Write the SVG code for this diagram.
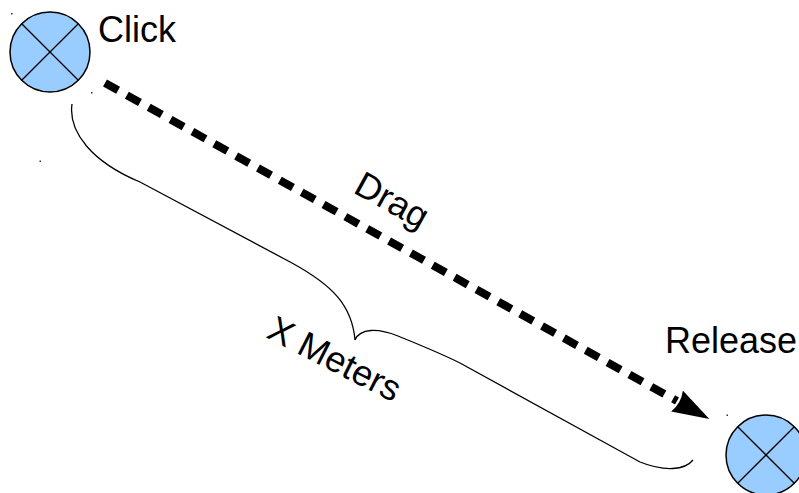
<svg xmlns="http://www.w3.org/2000/svg" width="799" height="493" viewBox="0 0 799 493">
<defs>
<style>
.node circle{fill:#99ccff;stroke:#000;stroke-width:1.5}
.node line{stroke:#000;stroke-width:1.3}
.lbl{font-family:"Liberation Sans",Arial,sans-serif;font-size:36px;fill:#000}
.dot{fill:#333}
</style>
<marker id="ah" viewBox="0 0 37 24" refX="0" refY="12" markerWidth="37" markerHeight="24" orient="auto" markerUnits="userSpaceOnUse">
<path d="M0,0 L37,12 L0,24 Q5,12 0,0 Z" fill="#000"/>
</marker>
</defs>
<rect width="799" height="493" fill="#fff"/>
<g id="connectors">
<line x1="105" y1="83" x2="677" y2="401" stroke="#000" stroke-width="8" stroke-dasharray="15,10" marker-end="url(#ah)"/>
<path d="M72,104 C68,132 92,162 140,182 L292,263 C332,285 352,305 355,340 C360,328 378,328 398,336 C420,345 440,353 460,363 L640,462 C665,472 685,470 693,460" fill="none" stroke="#000" stroke-width="1.3"/>
</g>
<g id="click">
<g class="node"><circle cx="50" cy="52" r="40"/><line x1="21.7" y1="23.7" x2="78.3" y2="80.3"/><line x1="78.3" y1="23.7" x2="21.7" y2="80.3"/></g>
<text class="lbl" x="98" y="42">Click</text>
</g>
<g id="release">
<g class="node"><circle cx="766" cy="455" r="40"/><line x1="737.7" y1="426.7" x2="794.3" y2="483.3"/><line x1="794.3" y1="426.7" x2="737.7" y2="483.3"/></g>
<text class="lbl" x="665" y="353">Release</text>
</g>
<text class="lbl" transform="translate(352,192) rotate(29)">Drag</text>
<text class="lbl" transform="translate(265,337) rotate(27)">X Meters</text>
<rect class="dot" x="11" y="13" width="1.5" height="1.5"/>
<rect class="dot" x="91" y="92" width="1.5" height="1.5"/>
<rect class="dot" x="39.5" y="160.5" width="1.5" height="1.5"/>
<rect class="dot" x="726.5" y="414.5" width="1.5" height="1.5"/>
</svg>
